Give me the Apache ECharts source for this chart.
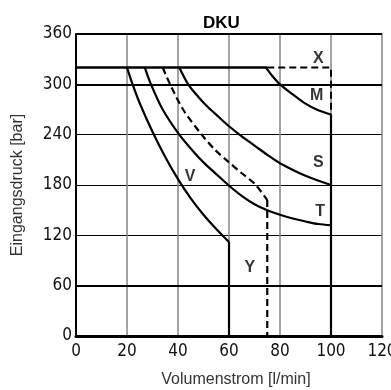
<!DOCTYPE html>
<html>
<head>
<meta charset="utf-8">
<script src="https://cdn.jsdelivr.net/npm/echarts@6/dist/echarts.min.js"></script>
<style>
  html, body { margin: 0; padding: 0; background: #fff; }
  #chart { width: 391px; height: 390px; }
</style>
</head>
<body>
<div id="chart"></div>
<script>
// Kennlinien DKU, Eingangsdruck über Volumenstrom
const xTicks = [0, 20, 40, 60, 80, 100, 120];
const yTicks = [0, 60, 120, 180, 240, 300, 360];
const refPressures = [360, 300, 60];

const limitLine = [[0, 320], [75, 320]];
const curveX = [[75, 320], [100, 320], [100, 264]];
const curveM = [[74.5, 320], [77, 310], [80, 300], [85, 288], [90, 277], [95, 269], [100, 264]];
const curveS = [[40.5, 320], [44, 300], [48, 285], [52, 272], [56, 261], [60, 250], [65, 238], [70, 227], [75, 216], [80, 206], [90, 191], [100, 180]];
const curveT = [[27, 320], [29.4, 300], [34, 270], [40.5, 240], [46, 220], [50, 207], [55, 193], [59.7, 180], [65, 167], [70, 157], [75, 150], [80, 144.5], [85, 140], [90, 136.5], [95, 133.5], [100, 132]];
const curveY = [[34, 320], [36.9, 300], [42, 270], [49.3, 240], [54.5, 222], [60, 207], [65, 194], [70.2, 181], [75, 162]];
const dropY = [[75, 162], [75, 0]];
const curveV = [[20, 320], [22.2, 300], [25, 277.5], [30, 243.5], [35, 213.5], [40, 187], [45, 164], [50, 144.5], [55, 127.5], [60, 112]];
const dropV = [[60, 112], [60, 0]];
const edge100 = [[100, 264], [100, 0]];

const labelNames = ["X", "M", "S", "T", "Y", "V"];
const labelPos = [[95, 331], [94.4, 286], [95, 207], [95.7, 148], [68.2, 81], [44.7, 190]];

const chart = echarts.init(document.getElementById("chart"));

function curve(data, dashed, width, smooth) {
  return {
    type: "line",
    data: data,
    smooth: smooth === undefined ? 0.3 : smooth,
    showSymbol: false,
    silent: true,
    lineStyle: { color: "#000", width: width || 2.2, type: dashed ? [7, 4] : "solid" },
    z: 5,
  };
}

chart.setOption({
  animation: false,
  backgroundColor: "#fff",
  title: {
    text: "DKU",
    left: 198,
    top: 10,
    textStyle: { fontFamily: "Liberation Sans", fontSize: 17, fontWeight: "bold", color: "#000" },
  },
  grid: { left: 76, right: 9, top: 34, bottom: 54, outerBoundsMode: "none" },
  xAxis: {
    type: "value",
    min: 0,
    max: 120,
    interval: 20,
    name: "Volumenstrom [l/min]",
    nameLocation: "middle",
    nameGap: 36,
    nameTextStyle: { fontFamily: "Liberation Sans", fontSize: 16, color: "#333", padding: [0, 0, 0, 14] },
    axisLine: { lineStyle: { color: "#000", width: 3 } },
    axisTick: { show: false },
    axisLabel: { fontFamily: "DejaVu Sans Condensed", fontSize: 17, color: "#111", margin: 7 },
    splitLine: { show: true, lineStyle: { color: "#858585", width: 1.5 } },
  },
  yAxis: {
    type: "value",
    min: 0,
    max: 360,
    interval: 60,
    name: "Eingangsdruck [bar]",
    nameLocation: "middle",
    nameGap: 50,
    nameTextStyle: { fontFamily: "Liberation Sans", fontSize: 16, color: "#333" },
    axisLine: { show: true, lineStyle: { color: "#000", width: 2 } },
    axisTick: { show: false },
    axisLabel: { fontFamily: "DejaVu Sans Condensed", fontSize: 17, color: "#111", margin: 4 },
    splitLine: { show: true, lineStyle: { color: "#000", width: 1 } },
  },
  series: [
    {
      type: "line",
      data: limitLine,
      showSymbol: false,
      silent: true,
      lineStyle: { color: "#000", width: 2.5 },
      z: 5,
      markLine: {
        silent: true,
        symbol: "none",
        label: { show: false },
        lineStyle: { color: "#000", width: 2, type: "solid" },
        data: refPressures.map((v) => ({ yAxis: v })),
      },
    },
    curve(curveX, true, 2, false),
    curve(curveM),
    curve(curveS),
    curve(curveT),
    curve(curveY, true),
    curve(dropY, true, 2.2, false),
    curve(curveV),
    curve(dropV, false, 2.2, false),
    curve(edge100, false, 2.2, false),
    {
      type: "scatter",
      symbolSize: 0,
      silent: true,
      z: 6,
      data: labelNames.map((n, i) => ({ name: n, value: labelPos[i] })),
      label: {
        show: true,
        position: "inside",
        formatter: (p) => p.name,
        fontFamily: "Liberation Sans",
        fontSize: 16,
        fontWeight: "bold",
        color: "#000",
      },
    },
  ],
});
</script>
</body>
</html>
